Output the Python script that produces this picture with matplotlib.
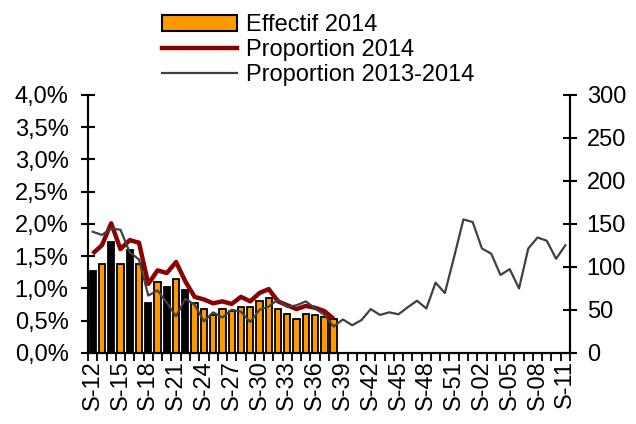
import matplotlib
matplotlib.use("Agg")
import matplotlib.pyplot as plt
from matplotlib.patches import Patch
from matplotlib.lines import Line2D
from matplotlib.ticker import FuncFormatter

plt.rcParams['font.family'] = ['Liberation Sans', 'DejaVu Sans']

# semaines S-12 (2014) -> S-11 (2015)
weeks = [f"S-{w:02d}" for w in list(range(12, 53)) + list(range(1, 12))]

# effectif 2014 (axe de droite), S-12 -> S-38
effectif_2014 = [95, 104, 129, 104, 120, 104, 58, 83, 77, 86, 73, 58, 51, 44,
                 51, 49, 54, 54, 61, 64, 51, 45, 39, 45, 44, 42, 39]

# proportions en % (axe de gauche)
prop_2014 = [1.54, 1.67, 2.01, 1.61, 1.75, 1.71, 1.07, 1.28, 1.24, 1.41, 1.11,
             0.87, 0.83, 0.77, 0.80, 0.76, 0.87, 0.80, 0.93, 0.99, 0.80, 0.74,
             0.68, 0.73, 0.70, 0.65, 0.53]

prop_2013_2014 = [1.88, 1.83, 1.93, 1.91, 1.56, 1.45, 0.89, 0.97, 0.78, 0.57,
                  0.84, 0.75, 0.49, 0.63, 0.55, 0.67, 0.64, 0.48, 0.67, 0.72,
                  0.83, 0.71, 0.74, 0.80, 0.69, 0.59, 0.41, 0.52, 0.43, 0.51,
                  0.68, 0.59, 0.63, 0.60, 0.71, 0.81, 0.69, 1.09, 0.93, 1.49,
                  2.07, 2.03, 1.62, 1.54, 1.21, 1.30, 1.00, 1.62, 1.79, 1.74,
                  1.46, 1.67]

ORANGE = '#FF9900'
RED = '#8B0000'
GREY = '#404040'
FS = 17

fig = plt.figure(figsize=(6.36, 4.24), dpi=100)
ax = fig.add_axes([0.1384, 0.1675, 0.7578, 0.6085])
ax2 = ax.twinx()

x = list(range(len(weeks)))

# barres (rendu Excel : les premieres barres etroites apparaissent noires)
colors = ['black' if (i % 2 == 0 and i <= 10) else ORANGE for i in range(len(effectif_2014))]
ax.bar(x[:len(effectif_2014)], effectif_2014, width=0.68, color=colors,
       edgecolor='black', linewidth=1.3, zorder=2)
ax.set_ylim(0, 300)
ax.set_yticks(range(0, 301, 50))
ax.yaxis.tick_right()

# lignes
ax2.plot(x[:len(prop_2014)], prop_2014, color=RED, lw=3.2, zorder=3, solid_capstyle='butt')
ax2.plot(x, prop_2013_2014, color=GREY, lw=1.6, zorder=4)
ax2.set_ylim(0, 4)
ax2.set_yticks([i * 0.5 for i in range(9)])
ax2.yaxis.set_major_formatter(FuncFormatter(lambda v, p: f"{v:.1f}".replace('.', ',') + '%'))
ax2.yaxis.tick_left()

ax.set_xlim(-0.5, len(weeks) - 0.5)
ax.set_xticks(x[::3])
ax.set_xticklabels(weeks[::3], rotation=90, fontsize=FS)
ax.set_xticks([i - 0.5 for i in range(len(weeks) + 1)], minor=True)
ax.tick_params(axis='x', which='major', length=0, pad=5)
ax.tick_params(axis='x', which='minor', length=6, width=1.3, direction='out')

ax.tick_params(axis='y', labelsize=FS, length=10, width=1.5, direction='inout', pad=7)
ax2.tick_params(axis='y', labelsize=FS, length=10, width=1.5, direction='inout', pad=9)

for a in (ax, ax2):
    a.spines['top'].set_visible(False)
    for s in ('left', 'right', 'bottom'):
        a.spines[s].set_linewidth(1.5)

handles = [Patch(facecolor=ORANGE, edgecolor='black', linewidth=1.5),
           Line2D([], [], color=RED, lw=3.2),
           Line2D([], [], color=GREY, lw=1.6)]
labels = ['Effectif 2014', 'Proportion 2014', 'Proportion 2013-2014']
fig.legend(handles, labels, loc='upper left', bbox_to_anchor=(0.232, 1.0),
           frameon=False, fontsize=FS, handlelength=3.2, handleheight=0.7,
           handletextpad=0.35, labelspacing=0.13, borderaxespad=0.2)

fig.savefig('out.png', dpi=100)
